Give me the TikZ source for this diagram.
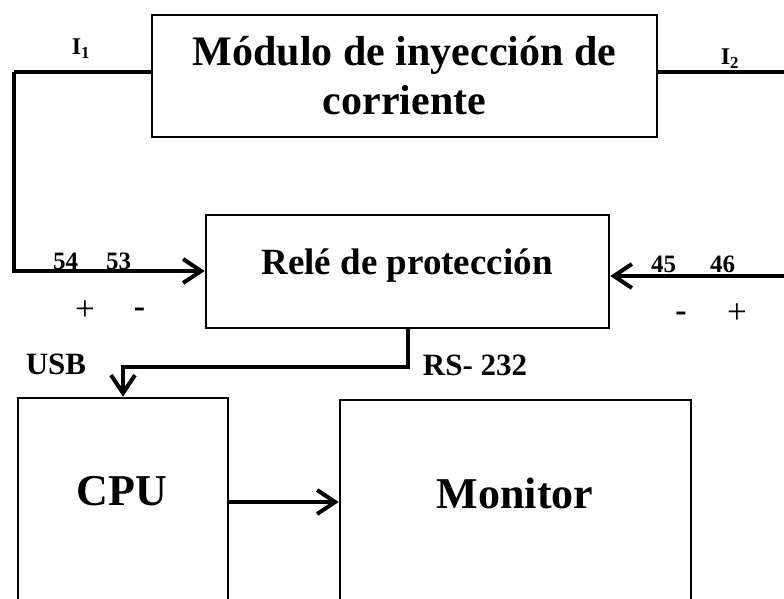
\documentclass[tikz,border=0pt]{standalone}
\usepackage{fontspec}
\setmainfont{Liberation Serif}
\usetikzlibrary{arrows.meta}
\tikzset{
  box/.style={draw, line width=2.6pt, inner sep=0pt},
  wire/.style={line width=4pt},
  arr/.style={wire, -{Straight Barb[length=18pt,width=24pt,line width=4pt]}},
  lbl/.style={inner sep=0pt, font=\fontsize{31}{36}\selectfont\bfseries},
  small/.style={inner sep=0pt, font=\fontsize{25}{30}\selectfont\bfseries},
  plus/.style={inner sep=0pt, anchor=base, font=\fontsize{35}{40}\selectfont},
  minus/.style={inner sep=0pt, anchor=base, font=\fontsize{34}{40}\selectfont\bfseries},
}
\begin{document}
\begin{tikzpicture}[x=1pt,y=-1pt]
\clip (0,0) rectangle (784,599);
\useasboundingbox (0,0) rectangle (784,599);
\fill[white] (0,0) rectangle (784,599);

% boxes
\node[box, minimum width=505pt, minimum height=122pt, align=center,
      font=\fontsize{42}{49}\selectfont\bfseries] (mod) at (404.5,76)
      {Módulo de inyección de\\corriente};
\node[box, minimum width=403pt, minimum height=113pt] (rel) at (407.5,271.5) {};
\node[box, minimum width=210pt, minimum height=252pt] (cpu) at (123,524) {};
\node[box, minimum width=351pt, minimum height=250pt] (mon) at (515.5,525) {};

% box texts
\node[inner sep=0pt, anchor=base, font=\fontsize{37}{44}\selectfont\bfseries] (reltxt) at (407,274) {Relé de protección};
\node[inner sep=0pt, anchor=base, font=\fontsize{44}{52}\selectfont\bfseries] (cputxt) at (122,505) {CPU};
\node[inner sep=0pt, anchor=base, font=\fontsize{44}{52}\selectfont\bfseries] (montxt) at (515,508) {Monitor};

% labels
\node[small, anchor=base, font=\fontsize{24}{28}\selectfont\bfseries] (i1) at (81,55) {I\textsubscript{1}};
\node[small, anchor=base, font=\fontsize{24}{28}\selectfont\bfseries] (i2) at (730,65) {I\textsubscript{2}};
\node[small, anchor=base] (t54) at (65.5,269) {54};
\node[small, anchor=base] (t53) at (118.5,269) {53};
\node[small, anchor=base] (t45) at (663.5,272) {45};
\node[small, anchor=base] (t46) at (722.5,272) {46};
\node[plus] (p1) at (85,320) {+};
\node[minus] (m1) at (139.5,317) {-};
\node[minus] (m2) at (681,321) {-};
\node[plus] (p2) at (737,323) {+};
\node[lbl, anchor=base] (usb) at (56,374) {USB};
\node[lbl, anchor=base] (rs) at (475,375) {RS- 232};

% coordinates
\coordinate (c1) at (14,72);
\coordinate (c2) at (14,271);
\coordinate (c3) at (784,72);
\coordinate (c4) at (784,276);
\coordinate (c5) at (228,502);

% connectors
\draw[wire] (mod.west |- c1) -- (c1);
\draw[arr] (c1) -- (c2) -- (rel.west |- c2);
\draw[wire] (mod.east |- c3) -- (c3);
\draw[arr] (c4) -- (rel.east |- c4);
\draw[arr] (rel.south) -- ++(0,38) -| (cpu.north);
\draw[arr] (cpu.east |- c5) -- (mon.west |- c5);
\end{tikzpicture}
\end{document}
